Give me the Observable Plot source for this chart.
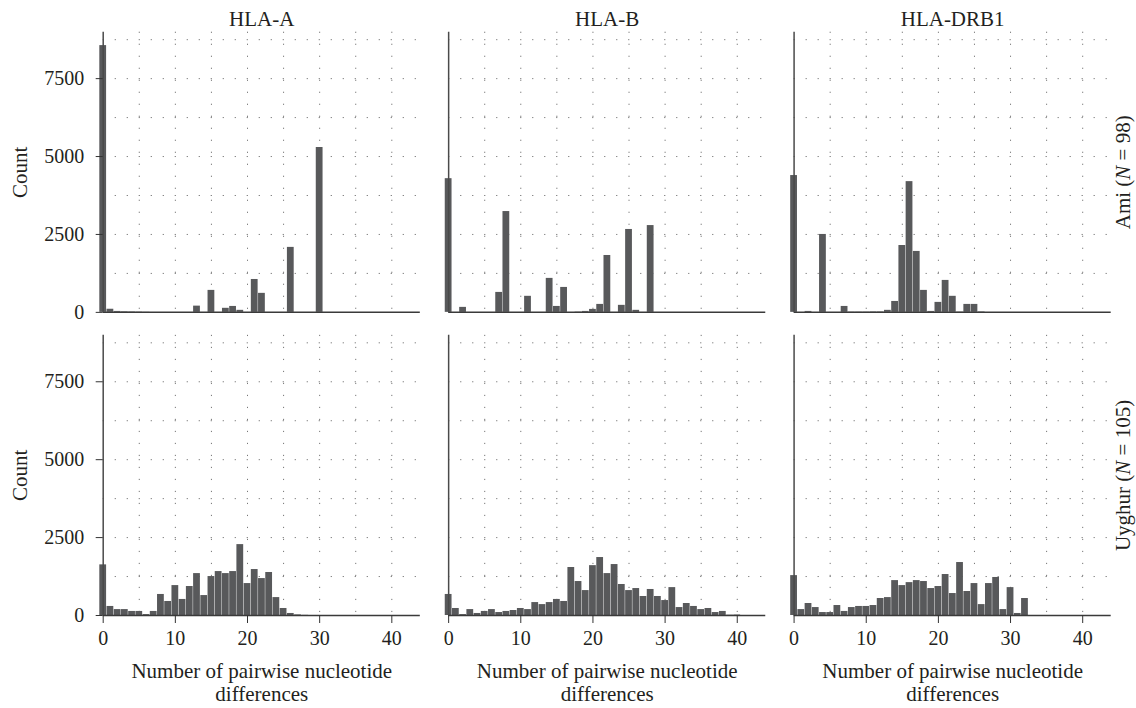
<!DOCTYPE html>
<html><head><meta charset="utf-8">
<script src="https://cdn.jsdelivr.net/npm/d3@7"></script>
<script src="https://cdn.jsdelivr.net/npm/@observablehq/plot@0.6"></script>
<style>body{margin:0;background:#fff;} svg text{font-family:'Liberation Serif','DejaVu Serif',serif;}</style>
</head><body><div id="chart"></div>
<script>
const genes = ["HLA-A", "HLA-B", "HLA-DRB1"];
const pops = ["Ami", "Uyghur"];
const popLabels = ["Ami (N = 98)", "Uyghur (N = 105)"];
const xTicks = [0, 10, 20, 30, 40];
const yTicks = [0, 2500, 5000, 7500];
const xGrid = [5, 10, 15, 20, 25, 30, 35, 40];
const yGrid = [1250, 2500, 3750, 5000, 6250, 7500, 8750];
const xTitle = "Number of pairwise nucleotide\ndifferences";
const yTitle = "Count";

// counts per number of differences (index = 0, 1, 2, ...)
const amiA = [8560,100,30,20,15,10,5,0,0,0,0,0,0,200,0,705,0,130,190,65,0,1055,610,0,0,0,2085,0,0,0,5290];
const amiB = [4290,0,160,0,0,0,0,640,3235,0,0,515,0,0,1090,190,800,0,10,30,95,255,1825,0,225,2660,65,0,2785];
const amiDRB1 = [4390,0,30,0,2500,0,0,190,10,10,10,15,15,65,350,2145,4195,1955,705,30,320,1025,515,10,255,255,15];
const uyA = [1625,290,190,190,130,130,30,130,675,450,960,515,930,1345,640,1250,1410,1345,1410,2275,1025,1475,1185,1380,575,225,65,20,5];
const uyB = [675,225,30,190,65,130,190,95,130,160,225,190,415,350,415,515,450,1540,1090,800,1600,1860,1345,1635,995,800,865,610,835,610,480,895,255,385,290,190,225,95,130,10,15];
const uyDRB1 = [1280,190,385,255,95,95,320,130,255,290,290,320,545,575,1120,960,1055,1120,1090,865,930,1315,705,1700,770,1025,350,1025,1220,190,895,65,545];

const series = [
  ["Ami", "HLA-A", amiA], ["Ami", "HLA-B", amiB], ["Ami", "HLA-DRB1", amiDRB1],
  ["Uyghur", "HLA-A", uyA], ["Uyghur", "HLA-B", uyB], ["Uyghur", "HLA-DRB1", uyDRB1]
];
const table = [];
for (const [pop, gene, vals] of series) vals.forEach((c, i) => { if (c > 0) table.push({pop, gene, x: i, count: c}); });

const serif = "'Liberation Serif', 'DejaVu Serif', serif";
const ink = "#231f20";
const yMax = 8990;

const chart = Plot.plot({
  width: 1136, height: 708,
  marginLeft: 102.7, marginRight: 25.3, marginTop: 31.7, marginBottom: 93,
  style: {fontFamily: serif, fontSize: "20px", color: ink, background: "#fff"},
  fx: {domain: genes, axis: null, paddingInner: 0.082, paddingOuter: 0, round: false},
  fy: {domain: pops, axis: null, paddingInner: 0.0758, paddingOuter: 0, round: false},
  x: {domain: [0, 43.95]},
  y: {domain: [0, yMax]},
  marks: [
    Plot.ruleY(yGrid, {stroke: "#777", strokeWidth: 1, strokeDasharray: "1.2,10.8"}),
    Plot.ruleX(xGrid, {stroke: "#777", strokeWidth: 1, strokeDasharray: "1.2,10.8"}),
    Plot.rectY(table, {x1: d => d.x - 0.47, x2: d => d.x + 0.47, y: "count", fx: "gene", fy: "pop", fill: "#58595b"}),
    Plot.ruleY([0], {stroke: "#3a3a3a", strokeWidth: 1.5}),
    Plot.ruleX([0], {y1: 0, y2: yMax, stroke: "#4a4a4a", strokeWidth: 1.5}),
    Plot.axisY({ticks: yTicks, tickFormat: d3.format("d"), tickSize: 7, tickPadding: 12, stroke: "#333", label: null, fontSize: 20}),
    Plot.axisX({ticks: xTicks, tickFormat: d3.format("d"), tickSize: 8, tickPadding: 7, stroke: "#333", label: null, fontSize: 20}),
    Plot.text(pops, {fy: d => d, fx: () => "HLA-A", text: () => yTitle, frameAnchor: "left", textAnchor: "middle", rotate: -90, lineAnchor: "middle", dx: -83, fontSize: 21, fill: ink}),
    Plot.text(genes, {fx: d => d, fy: () => "Ami", text: d => d, frameAnchor: "top", lineAnchor: "middle", dy: -12.5, fontSize: 21, fill: ink}),
    Plot.text(pops, {fy: d => d, fx: () => "HLA-DRB1", text: (d, i) => popLabels[i], frameAnchor: "right", textAnchor: "middle", rotate: -90, lineAnchor: "middle", dx: 12, fontSize: 21, fill: ink, className: "rowlab"}),
    Plot.text(genes, {fx: d => d, fy: () => "Uyghur", text: () => xTitle, frameAnchor: "bottom", lineAnchor: "top", dy: 45.5, lineHeight: 1.12, fontSize: 21, fill: ink})
  ]
});

chart.querySelectorAll(".rowlab text").forEach(t => {
  const s = t.textContent;
  const m = s.match(/^(.*\()N( = .*)$/);
  if (!m) return;
  t.textContent = "";
  const ns = "http://www.w3.org/2000/svg";
  const a = document.createElementNS(ns, "tspan"); a.textContent = m[1];
  const b = document.createElementNS(ns, "tspan"); b.textContent = "N"; b.setAttribute("font-style", "italic");
  const c = document.createElementNS(ns, "tspan"); c.textContent = m[2];
  t.append(a, b, c);
});

document.getElementById("chart").appendChild(chart);
</script></body></html>
